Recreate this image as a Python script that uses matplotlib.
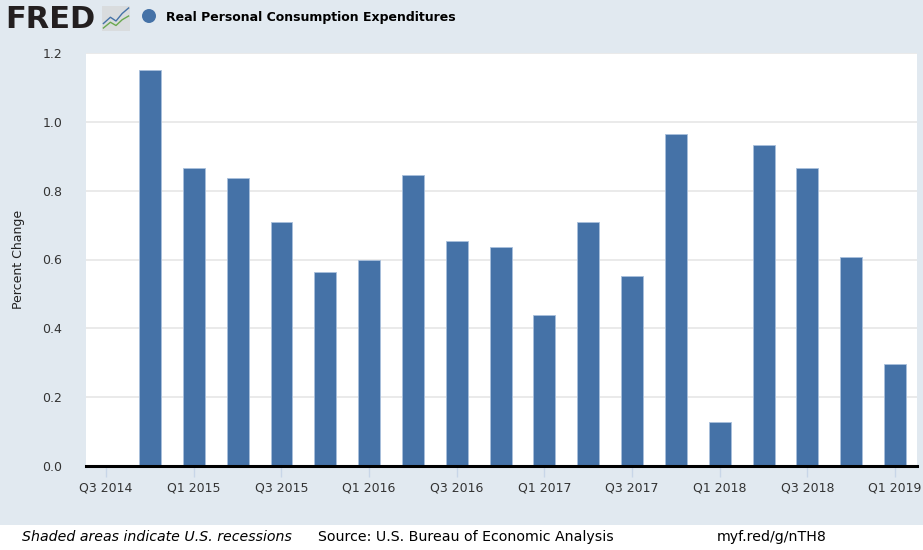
import matplotlib
matplotlib.use("Agg")
import matplotlib.pyplot as plt
from matplotlib.patches import Rectangle, Ellipse

# quarters shown on the axis (index 0 = Q3 2014)
quarters = ["Q3 2014", "Q4 2014", "Q1 2015", "Q2 2015", "Q3 2015", "Q4 2015",
            "Q1 2016", "Q2 2016", "Q3 2016", "Q4 2016", "Q1 2017", "Q2 2017",
            "Q3 2017", "Q4 2017", "Q1 2018", "Q2 2018", "Q3 2018", "Q4 2018",
            "Q1 2019"]
# percent change, Q4 2014 .. Q1 2019
values = [1.15, 0.865, 0.836, 0.708, 0.564, 0.598, 0.845, 0.653, 0.636,
          0.439, 0.708, 0.551, 0.964, 0.127, 0.933, 0.865, 0.608, 0.296]
yticks = [0.0, 0.2, 0.4, 0.6, 0.8, 1.0, 1.2]

bg = "#e1e9f0"
bar_color = "#4572a7"

fig = plt.figure(figsize=(9.23, 5.5), dpi=100, facecolor=bg)
ax = fig.add_axes([86 / 923, 84 / 550, 831 / 923, 413 / 550])
ax.set_facecolor("white")

xs = list(range(1, len(quarters)))
ax.bar(xs, values, width=0.5, color=bar_color, edgecolor="#a9c0dc",
       linewidth=0.6, zorder=3)

ax.set_xlim(-0.46, 18.5)
ax.set_ylim(0, 1.2)
ax.set_yticks(yticks)
ax.set_yticklabels(["%.1f" % v for v in yticks], fontsize=9, color="#333333")
ax.grid(axis="y", color="#e8e8e8", linewidth=1.3, zorder=0)

tick_pos = list(range(0, len(quarters), 2))
ax.set_xticks(tick_pos)
ax.set_xticklabels([quarters[i] for i in tick_pos], fontsize=9, color="#333333")
ax.tick_params(axis="x", length=8, width=1, color="#c8d6e8", pad=3)
ax.tick_params(axis="y", length=0, pad=17)

for s in ["top", "right", "left"]:
    ax.spines[s].set_visible(False)
ax.spines["bottom"].set_color("black")
ax.spines["bottom"].set_linewidth(2.2)
ax.spines["bottom"].set_zorder(4)

fig.text(19 / 923, 1 - 259 / 550, "Percent Change", rotation=90,
         ha="center", va="center", fontsize=9, color="#222222")

# header: FRED logo and legend
fig.text(5 / 923, 1 - 19 / 550, "FRED", fontsize=22, fontweight="bold",
         color="#231f20", ha="left", va="center")
icon = fig.add_axes([102 / 923, 1 - 31 / 550, 28 / 923, 25 / 550])
icon.set_xlim(0, 1)
icon.set_ylim(0, 1)
icon.axis("off")
icon.add_patch(Rectangle((0, 0), 1, 1, facecolor="#d9dcde", edgecolor="none"))
icon.plot([0.05, 0.3, 0.5, 0.72, 0.95], [0.3, 0.55, 0.4, 0.7, 0.92],
          color="#4572a7", linewidth=1)
icon.plot([0.05, 0.3, 0.5, 0.72, 0.95], [0.12, 0.35, 0.22, 0.45, 0.6],
          color="#6aa84f", linewidth=1)

fig.add_artist(Ellipse((149 / 923, 1 - 16 / 550), 14 / 923, 14 / 550,
                       transform=fig.transFigure, facecolor=bar_color,
                       edgecolor="none"))
fig.text(166 / 923, 1 - 17 / 550, "Real Personal Consumption Expenditures",
         fontsize=9, fontweight="bold", color="black", ha="left", va="center")

# footer
fig.add_artist(Rectangle((0, 0), 1, 25 / 550, transform=fig.transFigure,
                         facecolor="white", edgecolor="none"))
fy = 1 - 537 / 550
fig.text(22 / 923, fy, "Shaded areas indicate U.S. recessions", fontsize=10.2,
         style="italic", ha="left", va="center")
fig.text(318 / 923, fy, "Source: U.S. Bureau of Economic Analysis", fontsize=10.2,
         ha="left", va="center")
fig.text(717 / 923, fy, "myf.red/g/nTH8", fontsize=10.2, ha="left", va="center")

fig.savefig("out.png", dpi=100, facecolor=bg)
